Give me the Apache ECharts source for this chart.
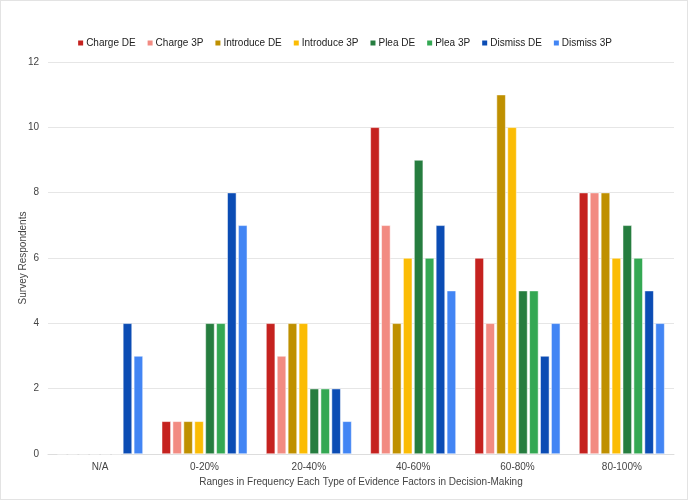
<!DOCTYPE html>
<html>
<head>
<meta charset="utf-8">
<script src="https://cdn.jsdelivr.net/npm/echarts@6/dist/echarts.min.js"></script>
<style>
  html, body { margin: 0; padding: 0; background: #fff; }
  #chart { width: 688px; height: 500px; box-sizing: border-box; border: 1px solid #e3e3e3; }
</style>
</head>
<body>
<div id="chart"></div>
<script>
  // categories and series values
  const categories = ['N/A', '0-20%', '20-40%', '40-60%', '60-80%', '80-100%'];
  const seriesNames = ['Charge DE', 'Charge 3P', 'Introduce DE', 'Introduce 3P', 'Plea DE', 'Plea 3P', 'Dismiss DE', 'Dismiss 3P'];
  const chargeDE = [0, 1, 4, 10, 6, 8];
  const charge3P = [0, 1, 3, 7, 4, 8];
  const introduceDE = [0, 1, 4, 4, 11, 8];
  const introduce3P = [0, 1, 4, 6, 10, 6];
  const pleaDE = [0, 4, 2, 9, 5, 7];
  const plea3P = [0, 4, 2, 6, 5, 6];
  const dismissDE = [4, 8, 2, 7, 3, 5];
  const dismiss3P = [3, 7, 1, 5, 4, 4];
  const seriesValues = [chargeDE, charge3P, introduceDE, introduce3P, pleaDE, plea3P, dismissDE, dismiss3P];
  const colors = ['#c5221f', '#f28b82', '#bf9000', '#fbbc04', '#267d3f', '#34a853', '#0b4cb4', '#4285f4'];

  let myChart = echarts.init(document.getElementById('chart'));
  myChart.setOption({
    color: colors,
    textStyle: { fontFamily: '"Liberation Sans", Arial, sans-serif' },
    legend: {
      top: 32,
      left: 'center',
      itemWidth: 7,
      itemHeight: 7,
      itemGap: 10,
      icon: 'rect',
      textStyle: { fontSize: 10, color: '#222', padding: [0, 0, 0, -3] },
      data: seriesNames
    },
    grid: {
      left: 47,
      right: 13,
      top: 61,
      bottom: 45,
      outerBoundsMode: 'none'
    },
    xAxis: {
      type: 'category',
      data: categories,
      name: 'Ranges in Frequency Each Type of Evidence Factors in Decision-Making',
      nameLocation: 'middle',
      nameGap: 21,
      nameTextStyle: { fontSize: 10, color: '#444' },
      axisLine: { lineStyle: { color: '#ddd' } },
      axisTick: { show: false },
      axisLabel: { fontSize: 10, color: '#444', margin: 8 }
    },
    yAxis: {
      type: 'value',
      min: 0,
      max: 12,
      interval: 2,
      name: 'Survey Respondents',
      nameLocation: 'middle',
      nameGap: 20,
      nameMoveOverlap: false,
      nameTextStyle: { fontSize: 10, color: '#444' },
      axisLabel: { fontSize: 10, color: '#444', margin: 9 },
      splitLine: { lineStyle: { color: '#e6e6e6' } }
    },
    series: seriesNames.map((name, i) => ({
      name: name,
      type: 'bar',
      data: seriesValues[i],
      barCategoryGap: '18%',
      barGap: '20%',
      itemStyle: { borderColor: '#fff', borderWidth: 0.5 }
    }))
  });
</script>
</body>
</html>
